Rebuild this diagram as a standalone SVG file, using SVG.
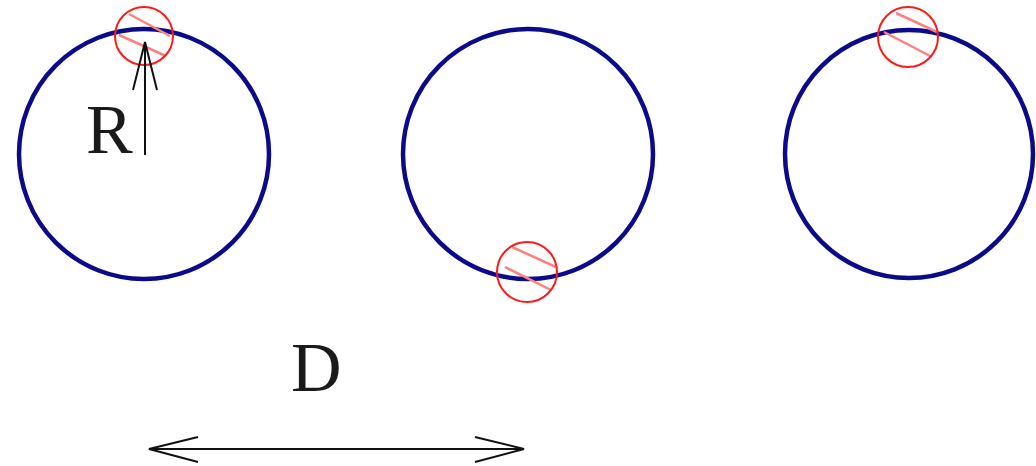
<svg xmlns="http://www.w3.org/2000/svg" width="1036" height="466" viewBox="0 0 1036 466">
<style>
.big{fill:none;stroke:#0b0b8a;stroke-width:4.5}
.small{fill:none;stroke:#ff1a1a;stroke-width:2}
.hatch{stroke:#ff8080;stroke-width:2.5}
.ln{stroke:#111;stroke-width:2;fill:none}
.lbl{font-family:"Liberation Serif",serif;font-size:70px;fill:#1a1a1a}
</style>
<rect width="1036" height="466" fill="#fff"/>
<g id="circle1">
<circle class="big" cx="144" cy="154" r="125"/>
<line class="hatch" x1="129" y1="14" x2="170" y2="36"/>
<line class="hatch" x1="119" y1="35" x2="166" y2="56"/>
<circle class="small" cx="144" cy="36" r="29"/>
</g>
<g id="circle2">
<circle class="big" cx="528" cy="154" r="125"/>
<line class="hatch" x1="512" y1="247" x2="556" y2="267"/>
<line class="hatch" x1="505" y1="267" x2="551" y2="290"/>
<circle class="small" cx="527" cy="272" r="30"/>
</g>
<g id="circle3">
<circle class="big" cx="909" cy="154" r="124"/>
<line class="hatch" x1="896" y1="13" x2="937" y2="32"/>
<line class="hatch" x1="884" y1="32" x2="932" y2="57"/>
<circle class="small" cx="908" cy="37" r="30"/>
</g>
<g id="connectors">
<line class="ln" x1="145" y1="155" x2="145" y2="42"/>
<polyline class="ln" points="133,90 145,42 157,90"/>
<line class="ln" x1="149" y1="449" x2="524" y2="449"/>
<polyline class="ln" points="198,437 149,449 198,462"/>
<polyline class="ln" points="475,437 524,449 475,462"/>
</g>
<g id="labels">
<text class="lbl" x="86" y="153">R</text>
<text class="lbl" x="291" y="391">D</text>
</g>
</svg>
